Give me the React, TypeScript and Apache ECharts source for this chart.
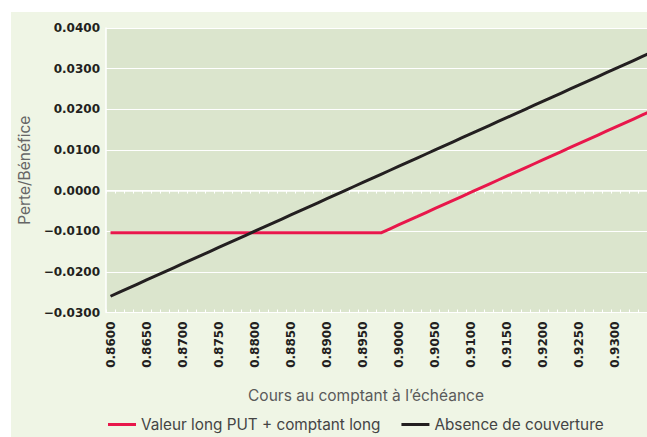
import React, { useEffect, useRef } from "react";
import * as echarts from "echarts";

const categories = [
  "0.8600","0.8613","0.8625","0.8638","0.8650","0.8663","0.8675","0.8688",
  "0.8700","0.8713","0.8725","0.8738","0.8750","0.8763","0.8775","0.8788",
  "0.8800","0.8813","0.8825","0.8838","0.8850","0.8863","0.8875","0.8888",
  "0.8900","0.8913","0.8925","0.8938","0.8950","0.8963","0.8975","0.8988",
  "0.9000","0.9013","0.9025","0.9038","0.9050","0.9063","0.9075","0.9088",
  "0.9100","0.9113","0.9125","0.9138","0.9150","0.9163","0.9175","0.9188",
  "0.9200","0.9213","0.9225","0.9238","0.9250","0.9263","0.9275","0.9288",
  "0.9300","0.9313","0.9325","0.9338","0.9350",
];

const putPlusSpot = [
  -0.0104,-0.0104,-0.0104,-0.0104,-0.0104,-0.0104,-0.0104,-0.0104,
  -0.0104,-0.0104,-0.0104,-0.0104,-0.0104,-0.0104,-0.0104,-0.0104,
  -0.0104,-0.0104,-0.0104,-0.0104,-0.0104,-0.0104,-0.0104,-0.0104,
  -0.0104,-0.0104,-0.0104,-0.0104,-0.0104,-0.0104,-0.0104,-0.0094,
  -0.0084,-0.0074,-0.0064,-0.0054,-0.0044,-0.0034,-0.0024,-0.0014,
  -0.0004,0.0006,0.0016,0.0026,0.0036,0.0046,0.0056,0.0066,
  0.0076,0.0086,0.0096,0.0106,0.0116,0.0126,0.0136,0.0146,
  0.0156,0.0166,0.0176,0.0186,0.0196,
];

const noHedge = [
  -0.026,-0.025,-0.024,-0.023,-0.022,-0.021,-0.020,-0.019,
  -0.018,-0.017,-0.016,-0.015,-0.014,-0.013,-0.012,-0.011,
  -0.010,-0.009,-0.008,-0.007,-0.006,-0.005,-0.004,-0.003,
  -0.002,-0.001,0.000,0.001,0.002,0.003,0.004,0.005,
  0.006,0.007,0.008,0.009,0.010,0.011,0.012,0.013,
  0.014,0.015,0.016,0.017,0.018,0.019,0.020,0.021,
  0.022,0.023,0.024,0.025,0.026,0.027,0.028,0.029,
  0.030,0.031,0.032,0.033,0.034,
];

const seriesNames = ["Valeur long PUT + comptant long", "Absence de couverture"];
const yTitle = "Perte/Bénéfice";
const xTitle = "Cours au comptant à l’échéance";

export default function App() {
  const ref = useRef<HTMLDivElement>(null);
  useEffect(() => {
    if (!ref.current) return;
    const chart = echarts.init(ref.current, null, { renderer: "svg" });
    const tickFont = "DejaVu Sans";
    const textFont = "Inter";
    chart.setOption({
      animation: false,
      backgroundColor: "#ffffff",
      graphic: [
        {
          type: "rect",
          z: -10,
          silent: true,
          shape: { x: 11, y: 12, width: 640, height: 430 },
          style: { fill: "#eff5e5" },
        },
        {
          type: "text",
          x: 366,
          y: 395,
          style: {
            text: xTitle,
            fill: "#5a5a5a",
            font: `15.5px ${textFont}`,
            textAlign: "center",
            textVerticalAlign: "middle",
          },
        },
      ],
      grid: {
        left: 106,
        top: 28,
        width: 550,
        height: 284.5,
        show: true,
        backgroundColor: "#dbe5cd",
        borderWidth: 0,
        containLabel: false,
        outerBoundsMode: "none",
      },
      legend: {
        left: 108,
        top: 417,
        padding: 0,
        itemWidth: 28,
        itemHeight: 3,
        itemGap: 21,
        icon: "rect",
        textStyle: { fontFamily: textFont, fontSize: 15.3, color: "#444444" },
        data: seriesNames,
      },
      xAxis: [
        {
          type: "category",
          data: categories,
          position: "bottom",
          boundaryGap: true,
          axisLine: { show: false, onZero: false },
          axisTick: { show: true, inside: true, length: 3, interval: 0, lineStyle: { color: "#ffffff", width: 1 } },
          axisLabel: {
            interval: 3,
            rotate: 90,
            margin: 9,
            fontFamily: tickFont,
            fontWeight: "bold",
            fontSize: 12,
            color: "#231f20",
            showMaxLabel: false,
          },
          splitLine: { show: false },
        },
        {
          type: "category",
          data: categories,
          position: "top",
          boundaryGap: true,
          axisLine: { show: true, onZero: true, lineStyle: { color: "#ffffff", width: 1.5 } },
          axisTick: { show: true, inside: true, length: 3, interval: 0, lineStyle: { color: "#ffffff", width: 1 } },
          axisLabel: { show: false },
          splitLine: { show: false },
        },
      ],
      yAxis: {
        type: "value",
        min: -0.03,
        max: 0.04,
        interval: 0.01,
        name: yTitle,
        nameLocation: "middle",
        nameGap: 71,
        nameTextStyle: { fontFamily: textFont, fontSize: 15.5, color: "#666666" },
        axisLine: { show: true, lineStyle: { color: "#ffffff", width: 1.5 } },
        axisTick: { show: false },
        splitLine: { show: true, lineStyle: { color: "#ffffff", width: 1.2 } },
        axisLabel: {
          margin: 6,
          fontFamily: tickFont,
          fontWeight: "bold",
          fontSize: 12,
          color: "#231f20",
          formatter: (v: number) => {
            const s = (Math.abs(v) < 1e-9 ? 0 : v).toFixed(4);
            return s.replace("-", "−");
          },
        },
      },
      series: [
        {
          name: seriesNames[0],
          type: "line",
          xAxisIndex: 0,
          data: putPlusSpot,
          symbol: "none",
          lineStyle: { color: "#e8174b", width: 3 },
          itemStyle: { color: "#e8174b" },
          z: 3,
        },
        {
          name: seriesNames[1],
          type: "line",
          xAxisIndex: 0,
          data: noHedge,
          symbol: "none",
          lineStyle: { color: "#231f20", width: 3 },
          itemStyle: { color: "#231f20" },
          z: 4,
        },
      ],
    });
    return () => chart.dispose();
  }, []);
  return (
    <div
      ref={ref}
      style={{ position: "fixed", left: 0, top: 0, width: 647, height: 437 }}
    />
  );
}
